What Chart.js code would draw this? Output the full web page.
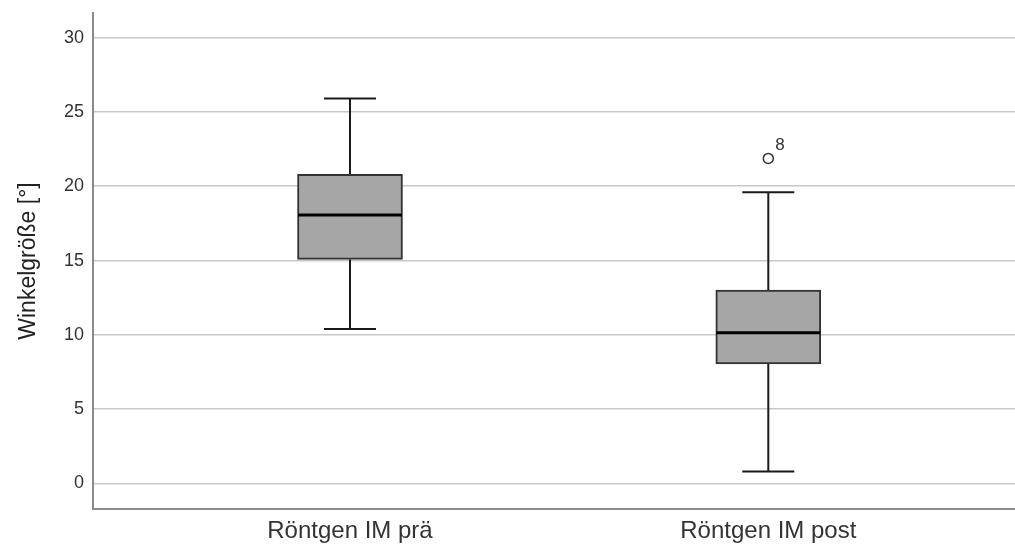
<!DOCTYPE html>
<html>
<head>
<meta charset="utf-8">
<script src="https://cdn.jsdelivr.net/npm/chart.js@4/dist/chart.umd.min.js"></script>
<style>
  html, body { margin: 0; padding: 0; background: #fff; overflow: hidden; }
  #wrap { width: 1015px; height: 547px; }
  canvas { display: block; }
</style>
</head>
<body>
<div id="wrap"><canvas id="c"></canvas></div>
<script>
// Boxplot: Winkelgröße vor / nach (SPSS-Stil)
const categories = ['Röntgen IM prä', 'Röntgen IM post']
const whiskerLow = [10.4, 0.8]
const q1 = [15.08, 8.04]
const median = [18.06, 10.14]
const q3 = [20.8, 13.01]
const whiskerHigh = [25.9, 19.6]

const outlierCat = [2]
const outlierValue = [21.87]
const outlierLabel = ['8']

const yTicks = [0, 5, 10, 15, 20, 25, 30]

const FONT = "'Liberation Sans', Arial, sans-serif"

// whiskers behind boxes, medians + outlier labels on top
const boxPlugin = {
  id: 'boxExtras',
  beforeDatasetsDraw(chart) {
    const { ctx, scales: { x, y } } = chart
    ctx.save()
    ctx.strokeStyle = '#1a1a1a'
    ctx.lineWidth = 2
    categories.forEach((c, i) => {
      const px = x.getPixelForValue(i + 1)
      const segs = [[whiskerLow[i], q1[i]], [q3[i], whiskerHigh[i]]]
      segs.forEach(([a, b]) => {
        ctx.beginPath()
        ctx.moveTo(px, y.getPixelForValue(a))
        ctx.lineTo(px, y.getPixelForValue(b))
        ctx.stroke()
      })
      ;[whiskerLow[i], whiskerHigh[i]].forEach(v => {
        const py = y.getPixelForValue(v)
        ctx.beginPath()
        ctx.moveTo(px - 26, py)
        ctx.lineTo(px + 26, py)
        ctx.stroke()
      })
    })
    ctx.restore()
  },
  afterDatasetsDraw(chart) {
    const { ctx, scales: { x, y } } = chart
    ctx.save()
    ctx.strokeStyle = '#000'
    ctx.lineWidth = 3
    categories.forEach((c, i) => {
      const px = x.getPixelForValue(i + 1)
      const py = y.getPixelForValue(median[i])
      ctx.beginPath()
      ctx.moveTo(px - 52, py)
      ctx.lineTo(px + 52, py)
      ctx.stroke()
    })
    ctx.fillStyle = '#333'
    ctx.font = '17px ' + FONT
    ctx.textAlign = 'left'
    ctx.textBaseline = 'middle'
    outlierCat.forEach((c, i) => {
      const px = x.getPixelForValue(c)
      const py = y.getPixelForValue(outlierValue[i])
      ctx.fillText(outlierLabel[i], px + 7, py - 13)
    })
    ctx.restore()
  },
}

new Chart(document.getElementById('c'), {
  type: 'bar',
  data: {
    datasets: [
      {
        label: 'Box',
        data: categories.map((c, i) => ({ x: i + 1, y: [q1[i], q3[i]] })),
        backgroundColor: '#a6a6a6',
        borderColor: '#333',
        borderWidth: 2,
        borderSkipped: false,
        barThickness: 105,
      },
      {
        type: 'scatter',
        label: 'Ausreißer',
        data: outlierCat.map((c, i) => ({ x: c, y: outlierValue[i] })),
        pointStyle: 'circle',
        pointRadius: 5,
        pointBackgroundColor: '#fff',
        pointBorderColor: '#333',
        pointBorderWidth: 1.5,
      },
    ],
  },
  options: {
    responsive: true,
    maintainAspectRatio: false,
    animation: false,
    layout: { autoPadding: false, padding: { top: 13, right: 0, left: 0, bottom: 0 } },
    plugins: { legend: { display: false }, tooltip: { enabled: false } },
    scales: {
      x: {
        type: 'linear',
        min: 0.3856,
        max: 2.5898,
        offset: false,
        grid: { display: false, drawTicks: false },
        border: { display: true, color: '#8a8a8a', width: 2 },
        afterBuildTicks: axis => { axis.ticks = categories.map((c, i) => ({ value: i + 1 })) },
        afterFit: s => { s.height = 38; s.paddingLeft = 0; s.paddingRight = 0 },
        ticks: {
          padding: 8,
          color: '#333',
          font: { family: FONT, size: 24 },
          callback: v => categories[v - 1],
        },
      },
      y: {
        min: -1.716,
        max: 31.655,
        grid: { color: '#c8c8c8', lineWidth: 1.5, drawTicks: false },
        border: { display: true, color: '#8a8a8a', width: 2 },
        afterBuildTicks: axis => { axis.ticks = yTicks.map(v => ({ value: v })) },
        afterFit: s => { s.width = 93; s.paddingTop = 0; s.paddingBottom = 0 },
        ticks: {
          padding: 9,
          color: '#333',
          font: { family: FONT, size: 18 },
        },
        title: {
          display: true,
          text: 'Winkelgröße [°]',
          color: '#222',
          font: { family: FONT, size: 23 },
          padding: { top: 15, bottom: 0 },
        },
      },
    },
  },
  plugins: [boxPlugin],
})
</script>
</body>
</html>
